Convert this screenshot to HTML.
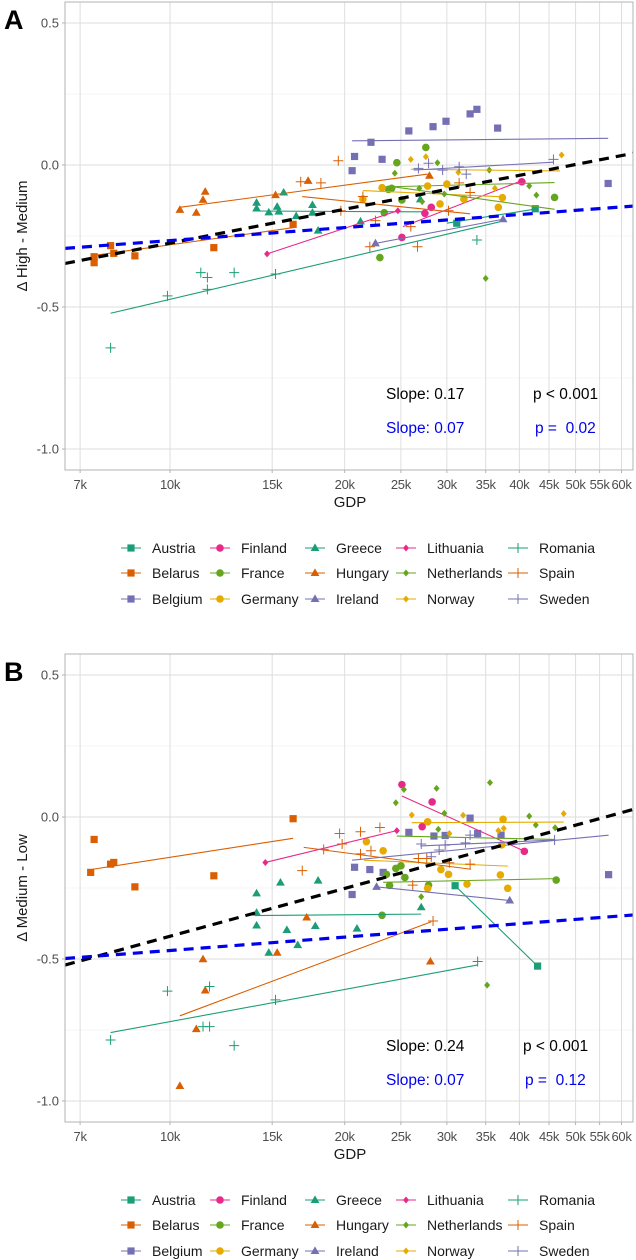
<!DOCTYPE html>
<html><head><meta charset="utf-8">
<style>
body{margin:0;background:#fff;}
svg{display:block;font-family:"Liberation Sans",sans-serif;}
svg text{white-space:pre;}
</style></head>
<body>
<svg id="chart" width="636" height="1260" viewBox="0 0 636 1260" xmlns="http://www.w3.org/2000/svg"></svg>
<script>
// ---------- DATA ----------
const countries = ["Austria","Belarus","Belgium","Finland","France","Germany","Greece","Hungary","Ireland","Lithuania","Netherlands","Norway","Romania","Spain","Sweden"];
const colors = {Austria:"#1B9E77",Belarus:"#D95F02",Belgium:"#7570B3",Finland:"#E7298A",France:"#66A61E",Germany:"#E6AB02",Greece:"#1B9E77",Hungary:"#D95F02",Ireland:"#7570B3",Lithuania:"#E7298A",Netherlands:"#66A61E",Norway:"#E6AB02",Romania:"#1B9E77",Spain:"#D95F02",Sweden:"#7570B3"};
const shapes = {Austria:"square",Belarus:"square",Belgium:"square",Finland:"circle",France:"circle",Germany:"circle",Greece:"triangle",Hungary:"triangle",Ireland:"triangle",Lithuania:"diamond",Netherlands:"diamond",Norway:"diamond",Romania:"plus",Spain:"plus",Sweden:"plus"};
const xTicks = [7,10,15,20,25,30,35,40,45,50,55,60];
const yTicks = [0.5,0,-0.5,-1.0];
const yMinor = [0.25,-0.25,-0.75];

// Panel A points: [gdp(k), value]
const ptsA = {
Austria:[[31.2,-0.205],[42.6,-0.154]],
Belarus:[[7.4,-0.323],[7.4,-0.344],[7.9,-0.284],[8.0,-0.311],[8.7,-0.320],[11.9,-0.291],[16.3,-0.209]],
Belgium:[[20.6,-0.02],[20.8,0.03],[22.2,0.08],[23.2,0.02],[25.8,0.12],[28.4,0.135],[29.9,0.154],[32.9,0.18],[33.8,0.196],[36.7,0.13],[56.9,-0.065]],
Finland:[[25.1,-0.255],[27.5,-0.170],[28.2,-0.149],[40.4,-0.059]],
France:[[23,-0.326],[23.4,-0.168],[24.6,0.008],[25.1,-0.123],[27.6,0.062],[23.8,-0.086],[24.1,-0.082],[46,-0.114]],
Germany:[[21.5,-0.120],[23.2,-0.080],[27.8,-0.074],[29.2,-0.137],[30,-0.067],[32.1,-0.120],[36.8,-0.149],[37.4,-0.115]],
Greece:[[14.1,-0.133],[14.1,-0.153],[14.8,-0.167],[15.3,-0.147],[15.4,-0.164],[15.7,-0.097],[16.5,-0.180],[17.6,-0.141],[17.6,-0.168],[18,-0.231],[21.3,-0.199],[27,-0.121]],
Hungary:[[10.4,-0.158],[11.1,-0.168],[11.4,-0.123],[11.5,-0.094],[15.2,-0.106],[17.3,-0.056],[28,-0.038]],
Ireland:[[22.6,-0.276],[37.5,-0.191]],
Lithuania:[[14.7,-0.313],[24.7,-0.161]],
Netherlands:[[24.4,-0.029],[26.9,-0.082],[27.2,-0.129],[28.9,0.008],[29.7,-0.102],[35.5,-0.018],[35,-0.399],[41.6,-0.074],[42.8,-0.106]],
Norway:[[26,0.020],[27.6,0.029],[31.4,-0.026],[36.3,-0.082],[47.3,0.035]],
Romania:[[7.9,-0.644],[9.9,-0.461],[11.3,-0.379],[11.6,-0.396],[11.6,-0.438],[12.9,-0.379],[15.2,-0.384],[33.8,-0.264]],
Spain:[[19.5,0.015],[16.8,-0.059],[18.2,-0.063],[19.7,-0.161],[21.5,-0.111],[22.6,-0.196],[26,-0.217],[26.7,-0.288],[22.1,-0.288],[30.2,-0.161],[31.5,-0.063],[32.9,-0.097]],
Sweden:[[26.8,-0.012],[27.9,0.006],[29.5,-0.018],[31.5,-0.006],[32.4,-0.032],[45.8,0.020]]
};
const linesA = {
Austria:[30,-0.205,42.6,-0.155],
Belarus:[7.3,-0.32,16.4,-0.22],
Belgium:[20.6,0.085,56.9,0.094],
Finland:[25.2,-0.217,40.4,-0.055],
France:[23.5,-0.077,46,-0.062],
Germany:[21.5,-0.090,37.4,-0.112],
Greece:[14,-0.162,27.2,-0.165],
Hungary:[10.4,-0.149,27.8,-0.032],
Ireland:[22.6,-0.276,37.5,-0.191],
Lithuania:[14.7,-0.313,24.7,-0.161],
Netherlands:[24.1,-0.076,46,-0.156],
Norway:[26,-0.015,47,-0.021],
Romania:[7.9,-0.522,37,-0.20],
Spain:[16.9,-0.111,32.9,-0.172],
Sweden:[26.3,-0.018,45.8,0.010]
};

const ptsB = {
Austria:[[31.0,-0.242],[43,-0.525]],
Belarus:[[7.4,-0.079],[7.3,-0.195],[7.9,-0.166],[8.0,-0.160],[8.7,-0.246],[11.9,-0.207],[16.3,-0.006]],
Belgium:[[20.8,-0.177],[20.6,-0.273],[22.1,-0.185],[23.3,-0.195],[25.8,-0.054],[28.5,-0.067],[29.8,-0.065],[32.9,-0.004],[33.9,-0.058],[37.2,-0.064],[57,-0.203]],
Finland:[[25.1,0.114],[28.3,0.053],[27.2,-0.034],[40.8,-0.121]],
France:[[23.2,-0.346],[23.6,-0.202],[23.9,-0.241],[24.5,-0.181],[25.0,-0.172],[25.4,-0.213],[27.9,-0.240],[46.3,-0.222]],
Germany:[[21.8,-0.087],[23.3,-0.119],[27.8,-0.017],[29.3,-0.185],[30.2,-0.202],[32.5,-0.236],[37.1,-0.204],[38.2,-0.251],[37.3,-0.098],[27.8,-0.251],[37.5,-0.008]],
Greece:[[14.1,-0.269],[15.5,-0.231],[18.0,-0.224],[14.1,-0.337],[14.1,-0.382],[15.9,-0.398],[17.8,-0.384],[14.8,-0.478],[16.6,-0.451],[21.0,-0.393],[27.1,-0.318]],
Hungary:[[17.2,-0.354],[15.3,-0.478],[11.4,-0.501],[11.5,-0.611],[11.1,-0.747],[10.4,-0.947],[28.1,-0.509]],
Ireland:[[22.7,-0.246],[38.5,-0.294]],
Lithuania:[[14.6,-0.160],[24.6,-0.048]],
Netherlands:[[24.5,0.050],[25.3,0.097],[28.8,0.101],[29.7,0.013],[29.0,-0.043],[35.6,0.121],[41.6,0.003],[42.7,-0.028],[46.1,-0.038],[27.1,-0.281],[35.2,-0.592]],
Norway:[[26.1,0.007],[32.0,0.006],[30.3,-0.058],[36.8,-0.048],[37.6,-0.040],[47.7,0.012]],
Romania:[[9.9,-0.613],[11.7,-0.597],[15.2,-0.644],[7.9,-0.785],[11.4,-0.738],[11.7,-0.738],[12.9,-0.805],[33.9,-0.509]],
Spain:[[16.9,-0.189],[18.4,-0.114],[19.6,-0.058],[19.8,-0.095],[21.3,-0.052],[21.3,-0.130],[22.2,-0.119],[23.0,-0.037],[26.8,-0.146],[27.7,-0.146],[26.2,-0.240],[28.4,-0.366],[30.3,-0.161],[32.9,-0.166]],
Sweden:[[27.1,-0.095],[28.2,-0.140],[29.1,-0.116],[29.8,-0.099],[32.3,-0.091],[32.9,-0.064],[46,-0.081]]
};
const linesB = {
Austria:[31.0,-0.242,43,-0.525],
Belarus:[7.2,-0.187,16.3,-0.075],
Belgium:[20.6,-0.152,57,-0.064],
Finland:[25.1,0.074,40.8,-0.12],
France:[23.3,-0.230,46.3,-0.217],
Germany:[21.6,-0.152,38.2,-0.173],
Greece:[14,-0.347,27.1,-0.342],
Hungary:[10.4,-0.70,28.2,-0.369],
Ireland:[22.7,-0.246,38.5,-0.294],
Lithuania:[14.6,-0.160,24.6,-0.048],
Netherlands:[24.6,-0.067,46,-0.079],
Norway:[26.1,-0.020,47.7,-0.018],
Romania:[7.9,-0.759,33.9,-0.521],
Spain:[17,-0.107,33,-0.184],
Sweden:[27,-0.102,46,-0.081]
};
const regA = {black:[-0.275,0.172], blue:[-0.266,0.066]};
const regB = {black:[-0.420,0.243], blue:[-0.470,0.068]};
const annotA = ["Slope: 0.17","p < 0.001","Slope: 0.07","p =  0.02"];
const annotB = ["Slope: 0.24","p < 0.001","Slope: 0.07","p =  0.12"];

// ---------- DRAW ----------
const NS="http://www.w3.org/2000/svg";
const svg=document.getElementById('chart');
function mk(tag,attrs,parent){const e=document.createElementNS(NS,tag);for(const k in attrs)e.setAttribute(k,attrs[k]);(parent||svg).appendChild(e);return e;}
const L=65,R=633;
function X(g){return 170+252*Math.log(g/10);}
const gminLog=(L-170)/252, gmaxLog=(R-170)/252;

function drawSymbol(g,shape,x,y,col){
  let e;
  if(shape==="square"){e=mk('rect',{x:x-3.6,y:y-3.6,width:7.2,height:7.2,fill:col},g);}
  else if(shape==="circle"){e=mk('circle',{cx:x,cy:y,r:3.8,fill:col},g);}
  else if(shape==="triangle"){e=mk('polygon',{points:`${x},${y-4.6} ${x-4.4},${y+3} ${x+4.4},${y+3}`,fill:col},g);}
  else if(shape==="diamond"){e=mk('polygon',{points:`${x},${y-3.5} ${x+3},${y} ${x},${y+3.5} ${x-3},${y}`,fill:col},g);}
  else {e=mk('path',{d:`M${x-5},${y}H${x+5}M${x},${y-5}V${y+5}`,stroke:col,'stroke-width':1,fill:'none'},g);}
  return e;
}

function panel(off,label,ytitle,pts,lines,reg,annot){
  const T=2+off,B=470+off;
  const Y=v=>165+off-284*v;
  const g=mk('g',{});
  
  
  const clipId='clip'+label;
  const cp=mk('clipPath',{id:clipId},g); mk('rect',{x:L,y:T,width:R-L,height:B-T},cp);
  const grid=mk('g',{},g);
  
  
  yMinor.forEach(v=>mk('line',{x1:L,x2:R,y1:Y(v),y2:Y(v),stroke:'#ededed','stroke-width':0.6},grid));
  yTicks.forEach(v=>mk('line',{x1:L,x2:R,y1:Y(v),y2:Y(v),stroke:'#dedede','stroke-width':1},grid));
  xTicks.forEach(t=>mk('line',{x1:X(t),x2:X(t),y1:T,y2:B,stroke:'#dedede','stroke-width':1},grid));
  yTicks.forEach(v=>{
    mk('line',{x1:L-3,x2:L,y1:Y(v),y2:Y(v),stroke:'#b3b3b3'},g);
    const t=mk('text',{x:L-6,y:Y(v)+4.5,'text-anchor':'end','font-size':13,fill:'#4d4d4d'},g);
    t.textContent=v.toFixed(1);
    
    
  });
  xTicks.forEach(k=>{
    mk('line',{x1:X(k),x2:X(k),y1:B,y2:B+3,stroke:'#b3b3b3'},g);
    const t=mk('text',{x:X(k),y:B+19,'text-anchor':'middle','font-size':13,fill:'#4d4d4d','letter-spacing':'-0.3'},g);
    t.textContent=k+'k';
    
    
  });
  const xt=mk('text',{x:350,y:B+37,'text-anchor':'middle','font-size':15,fill:'#1a1a1a'},g);
  xt.textContent='GDP';
  
  
  const yt=mk('text',{x:0,y:0,'text-anchor':'middle','font-size':15,fill:'#1a1a1a',transform:`translate(27,${(T+B)/2}) rotate(-90)`},g);
  yt.textContent=ytitle;
  
  
  const pl=mk('text',{x:4,y:T+27,'font-size':27,'font-weight':'bold',fill:'#000'},g);
  pl.textContent=label;
  
  
  const dg=mk('g',{'clip-path':`url(#${clipId})`},g);
  countries.forEach(c=>{
    const sg=mk('g',{},dg);
    
    
    const ln=lines[c];
    const le=mk('line',{x1:X(ln[0]),y1:Y(ln[1]),x2:X(ln[2]),y2:Y(ln[3]),stroke:colors[c],'stroke-width':1.1},sg);
    
    
    pts[c].forEach(p=>{
      const s=drawSymbol(sg,shapes[c],X(p[0]),Y(p[1]),colors[c]);
      
      
    });
  });
  [['black','#000'],['blue','#0000ee']].forEach(([k,col])=>{
    const [b,s]=reg[k];
    const r=mk('line',{x1:L,y1:Y(b+s*gminLog),x2:R,y2:Y(b+s*gmaxLog),stroke:col,'stroke-width':3.2,'stroke-dasharray':'10,7'},dg);
    
    
  });
  mk('rect',{x:L,y:T,width:R-L,height:B-T,fill:'none',stroke:'#b3b3b3','stroke-width':1},g);
  const ay1=off===0?399:1051, ay2=off===0?433:1085;
  const a=[[386,ay1,'#000',annot[0]],[off===0?533:523,ay1,'#000',annot[1]],[386,ay2,'#0000ee',annot[2]],[off===0?535:525,ay2,'#0000ee',annot[3]]];
  a.forEach(([x,y,col,s])=>{
    const t=mk('text',{x:x,y:y,'font-size':15.5,fill:col},g);
    t.textContent=s;
    
    
  });
  const lg=mk('g',{},g);
  
  
  const colX=[131,220,315,406,518], rowY=[548,573,599];
  countries.forEach((c,i)=>{
    const col=Math.floor(i/3), row=i%3;
    const cx=colX[col], cy=rowY[row]+off;
    const eg=mk('g',{},lg);
    
    
    mk('line',{x1:cx-10,x2:cx+10,y1:cy,y2:cy,stroke:colors[c],'stroke-width':1.1},eg);
    drawSymbol(eg,shapes[c],cx,cy,colors[c]);
    const t=mk('text',{x:cx+21,y:cy+5,'font-size':14,fill:'#1a1a1a'},eg);
    t.textContent=c;
  });
}
panel(0,'A','\u0394 High - Medium',ptsA,linesA,regA,annotA);
panel(652,'B','\u0394 Medium - Low',ptsB,linesB,regB,annotB);
</script>
</body></html>
